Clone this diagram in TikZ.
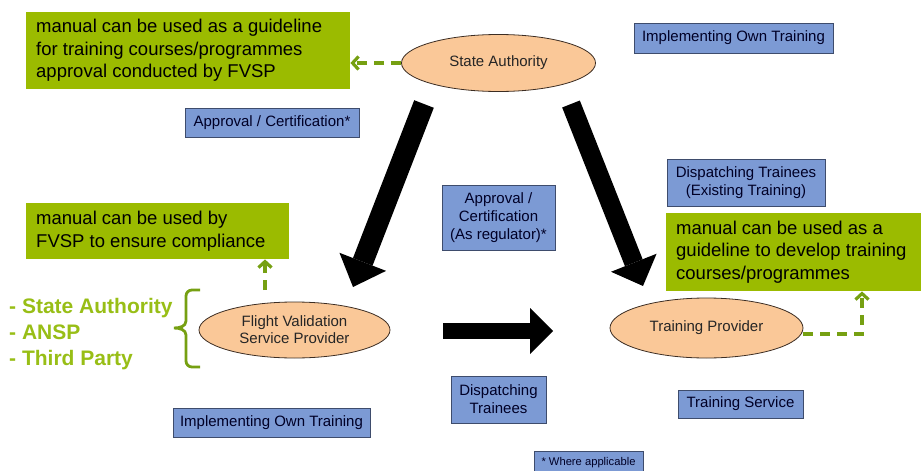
\documentclass[tikz,border=0pt]{standalone}
\usepackage{fontspec}
\setmainfont{Liberation Sans}
\usetikzlibrary{arrows.meta,shapes.geometric}
\definecolor{gbox}{RGB}{155,187,0}
\definecolor{gtext}{RGB}{152,190,22}
\definecolor{gdash}{RGB}{118,160,18}
\definecolor{bfill}{RGB}{124,154,212}
\definecolor{bdraw}{RGB}{62,76,108}
\definecolor{efill}{RGB}{250,200,152}
\definecolor{edraw}{RGB}{60,45,35}
\begin{document}
\begin{tikzpicture}[x=1pt,y=-1pt,
  bluebox/.style={draw=bdraw, fill=bfill, line width=0.9pt, inner sep=0pt, align=center,
    font=\fontsize{15}{18}\selectfont, text=black!85!blue},
  greenbox/.style={fill=gbox, inner sep=0pt, anchor=north west},
  greentext/.style={inner sep=0pt, anchor=west, align=left, font=\fontsize{18.5}{22.5}\selectfont, text=black},
  actor/.style={ellipse, draw=edraw, fill=efill, line width=0.8pt, inner sep=0pt, align=center,
    font=\fontsize{15}{17}\selectfont, text=black!85},
  bigarrow/.style={draw=black, line cap=butt},
  gdashed/.style={draw=gdash, line width=3.2pt, dash pattern=on 10pt off 7pt,
    -{Straight Barb[length=6pt,width=13pt]}}
]
\path[use as bounding box] (0,0) rectangle (921,471);
\clip (0,0) rectangle (921,471);

% green note boxes
\node[greenbox, minimum width=324, minimum height=77] (g1) at (26,12) {};
\node[greentext] (g1t) at ([xshift=10pt]g1.west) {manual can be used as a guideline\\for training courses/programmes\\approval conducted by FVSP};
\node[greenbox, minimum width=263, minimum height=56] (g2) at (26,203) {};
\node[greentext] (g2t) at ([xshift=10pt]g2.west) {manual can be used by\\FVSP to ensure compliance};
\node[greenbox, minimum width=260, minimum height=78] (g3) at (666,213) {};
\node[greentext] (g3t) at ([xshift=10pt]g3.west) {manual can be used as a\\guideline to develop training\\courses/programmes};

% actors
\node[actor, minimum width=194, minimum height=57] (sa) at (498.5,63) {State Authority};
\node[actor, minimum width=191, minimum height=56] (fvsp) at (294.5,330) {Flight Validation\\Service Provider};
\node[actor, minimum width=193, minimum height=60] (tp) at (706.5,328) {Training Provider};

% blue labels
\node[bluebox, minimum width=199, minimum height=30] (iot1) at (733.5,38) {Implementing Own Training};
\node[bluebox, minimum width=174, minimum height=29] (appr) at (272,122.5) {Approval / Certification*};
\node[bluebox, minimum width=113, minimum height=65] (apreg) at (498.5,217.5) {Approval /\\Certification\\(As regulator)*};
\node[bluebox, minimum width=158, minimum height=47] (dte) at (746,182.5) {Dispatching Trainees\\(Existing Training)};
\node[bluebox, minimum width=95, minimum height=47] (dt) at (498.5,399.5) {Dispatching\\Trainees};
\node[bluebox, minimum width=125, minimum height=28] (ts) at (740.5,404) {Training Service};
\node[bluebox, minimum width=197, minimum height=29] (iot2) at (271.5,422.5) {Implementing Own Training};
\node[bluebox, minimum width=109, minimum height=24, font=\fontsize{11.2}{13}\selectfont] (wa) at (588.5,463) {* Where applicable};

% list of FVSP types
\node[inner sep=0pt, anchor=west, align=left, font=\bfseries\fontsize{21}{26}\selectfont, text=gtext] (list) at (9,334) {- State Authority\\- ANSP\\- Third Party};

% brace
\draw[draw=gdash, line width=2.8pt, line cap=butt]
  (200,290) -- (192,290) to[out=180,in=90] (186,296) -- (186,321)
  to[out=-90,in=0] (174,328) to[out=0,in=90] (186,335) -- (186,361)
  to[out=-90,in=180] (192,367) -- (200,367);

% big arrows
\coordinate (a1s) at (424,104);
\coordinate (a1e) at (353,287);
\coordinate (a2s) at (571,104);
\coordinate (a2e) at (643,286);
\coordinate (a3s) at (443,331);
\coordinate (a3e) at (553,331);
\draw[bigarrow, line width=21pt, -{Triangle[length=27pt,width=50pt,line width=0pt]}] (a1s) -- (a1e);
\draw[bigarrow, line width=19pt, -{Triangle[length=25pt,width=49pt,line width=0pt]}] (a2s) -- (a2e);
\draw[bigarrow, line width=16pt, -{Triangle[length=23pt,width=46pt,line width=0pt]}] (a3s) -- (a3e);

% dashed green connectors
\draw[gdashed] (sa.west) -- (sa.west -| g1.east);
\coordinate (fvup) at (265,290);
\draw[gdashed] (fvup) -- (fvup |- g2.south);
\coordinate (tpc) at (862,334);
\draw[gdashed] ([yshift=-6pt]tp.east) -- (tpc) -- (tpc |- g3.south);
\end{tikzpicture}
\end{document}
